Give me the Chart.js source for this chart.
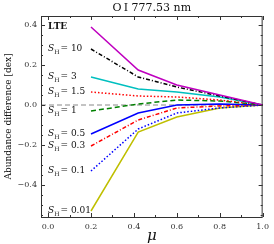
<!DOCTYPE html>
<html lang="en">
<head>
<meta charset="UTF-8">
<title>O I 777.53 nm</title>
<script src="https://cdn.jsdelivr.net/npm/chart.js"></script>
<style>
  html, body { margin: 0; padding: 0; background: #fff; }
  #wrap { width: 274px; height: 244px; }
</style>
</head>
<body>
<div id="wrap"><canvas id="abundChart" width="274" height="244"></canvas></div>
<script>
// mu points and abundance differences [dex]
const mu = [0.2, 0.42, 0.6, 0.8, 1.0];
const seriesNames = ['LTE', '10', '3', '1.5', '1', '0.5', '0.3', '0.1', '0.01'];
const lte   = [0.39, 0.175, 0.10, 0.05, 0.0];
const sh10  = [0.28, 0.14, 0.09, 0.045, 0.0];
const sh3   = [0.14, 0.08, 0.065, 0.04, 0.0];
const sh1p5 = [0.065, 0.045, 0.04, 0.025, 0.0];
const sh1   = [-0.03, 0.005, 0.025, 0.02, 0.0];
const sh0p5 = [-0.145, -0.04, 0.0, 0.005, 0.0];
const sh0p3 = [-0.205, -0.075, -0.015, -0.005, 0.0];
const sh0p1 = [-0.33, -0.12, -0.04, -0.015, 0.0];
const sh001 = [-0.53, -0.135, -0.06, -0.015, 0.0];
const xTicks = [0.0, 0.2, 0.4, 0.6, 0.8, 1.0];
const yTicks = [-0.4, -0.2, 0.0, 0.2, 0.4];

const allSeries = [lte, sh10, sh3, sh1p5, sh1, sh0p5, sh0p3, sh0p1, sh001];
const styles = [
    { color: '#bf00bf', dash: [] },
    { color: '#000000', dash: [4, 2, 1, 2] },
    { color: '#00bfbf', dash: [] },
    { color: '#ff0000', dash: [1.5, 2] },
    { color: '#008000', dash: [5, 3] },
    { color: '#0000ff', dash: [] },
    { color: '#ff0000', dash: [4, 2, 1, 2] },
    { color: '#0000ff', dash: [1.5, 2] },
    { color: '#bfbf00', dash: [] }
];

const datasets = allSeries.map((vals, i) => ({
    label: seriesNames[i],
    data: vals.map((v, j) => ({ x: mu[j], y: v })),
    borderColor: styles[i].color,
    borderDash: styles[i].dash,
    borderWidth: 1.5,
    pointRadius: 0,
    fill: false,
    tension: 0
}));

const serif = '"DejaVu Serif", "Liberation Serif", serif';

const decorPlugin = {
    id: 'decor',
    beforeDatasetsDraw(chart) {
        const { ctx, chartArea: a, scales: { y } } = chart;
        ctx.save();
        // zero reference line
        ctx.strokeStyle = '#888';
        ctx.lineWidth = 1;
        ctx.setLineDash([5, 3]);
        const y0 = y.getPixelForValue(0);
        ctx.beginPath();
        ctx.moveTo(a.left, y0);
        ctx.lineTo(a.right, y0);
        ctx.stroke();
        ctx.restore();
    },
    afterDraw(chart) {
        const { ctx, chartArea: a, scales: { x, y } } = chart;
        ctx.save();
        // frame
        ctx.strokeStyle = '#333';
        ctx.lineWidth = 1;
        ctx.strokeRect(a.left + 0.5, a.top + 0.5, a.right - a.left - 1, a.bottom - a.top);
        // inward ticks
        ctx.beginPath();
        for (let v = 0; v <= 1.0001; v += 0.1) {
            const px = Math.round(x.getPixelForValue(v)) + 0.5;
            const major = Math.abs(v * 5 - Math.round(v * 5)) < 1e-6;
            const len = major ? 4 : 2;
            ctx.moveTo(px, a.bottom); ctx.lineTo(px, a.bottom - len);
            ctx.moveTo(px, a.top); ctx.lineTo(px, a.top + len);
        }
        for (let v = -0.55; v <= 0.4501; v += 0.05) {
            const py = Math.round(y.getPixelForValue(v)) + 0.5;
            if (py < a.top || py > a.bottom) continue;
            const major = Math.abs(v * 5 - Math.round(v * 5)) < 1e-6;
            const len = major ? 4 : 2;
            ctx.moveTo(a.left, py); ctx.lineTo(a.left + len, py);
            ctx.moveTo(a.right, py); ctx.lineTo(a.right - len, py);
        }
        ctx.stroke();

        // title
        ctx.fillStyle = '#111';
        ctx.textBaseline = 'middle';
        ctx.textAlign = 'center';
        ctx.font = '11px ' + serif;
        ctx.fillText('O\u2009I 777.53 nm', (a.left + a.right) / 2, 8);

        // axis labels
        ctx.font = 'italic 15px ' + serif;
        ctx.fillText('\u03bc', (a.left + a.right) / 2, 236);
        ctx.save();
        ctx.translate(9, (a.top + a.bottom) / 2);
        ctx.rotate(-Math.PI / 2);
        ctx.font = '9px ' + serif;
        ctx.fillText('Abundance difference [dex]', 0, 0);
        ctx.restore();

        // series labels
        ctx.textAlign = 'left';
        const lx = x.getPixelForValue(0.0);
        allSeries.forEach((vals, i) => {
            const ly = y.getPixelForValue(vals[0]);
            if (seriesNames[i] === 'LTE') {
                ctx.font = 'bold 9px ' + serif;
                ctx.fillText('LTE', lx, ly);
                return;
            }
            let cx = lx;
            ctx.font = 'italic 9px ' + serif;
            ctx.fillText('S', cx, ly);
            cx += ctx.measureText('S').width;
            ctx.font = '6px ' + serif;
            ctx.fillText('H', cx, ly + 3);
            cx += ctx.measureText('H').width + 1;
            ctx.font = '9px ' + serif;
            ctx.fillText('= ' + seriesNames[i], cx, ly);
        });
        ctx.restore();
    }
};

const ctx = document.getElementById('abundChart').getContext('2d');
new Chart(ctx, {
    type: 'line',
    data: { datasets: datasets },
    options: {
        responsive: false,
        animation: false,
        layout: { padding: { top: 16, right: 10, left: 0, bottom: 0 } },
        plugins: { legend: { display: false }, tooltip: { enabled: false } },
        scales: {
            x: {
                type: 'linear',
                min: -0.033,
                max: 1.0,
                afterBuildTicks: s => { s.ticks = xTicks.map(v => ({ value: v })); },
                afterFit: s => { s.height = 27; },
                grid: { display: false, drawTicks: false },
                border: { display: false },
                ticks: {
                    padding: 5,
                    color: '#333',
                    font: { family: serif, size: 8 },
                    callback: v => v.toFixed(1)
                }
            },
            y: {
                min: -0.56,
                max: 0.445,
                afterBuildTicks: s => { s.ticks = yTicks.map(v => ({ value: v })); },
                afterFit: s => { s.width = 41; },
                grid: { display: false, drawTicks: false },
                border: { display: false },
                ticks: {
                    padding: 4,
                    color: '#333',
                    font: { family: serif, size: 8 },
                    callback: v => (v < 0 ? '\u2212' : '') + Math.abs(v).toFixed(1)
                }
            }
        }
    },
    plugins: [decorPlugin]
});
</script>
</body>
</html>
